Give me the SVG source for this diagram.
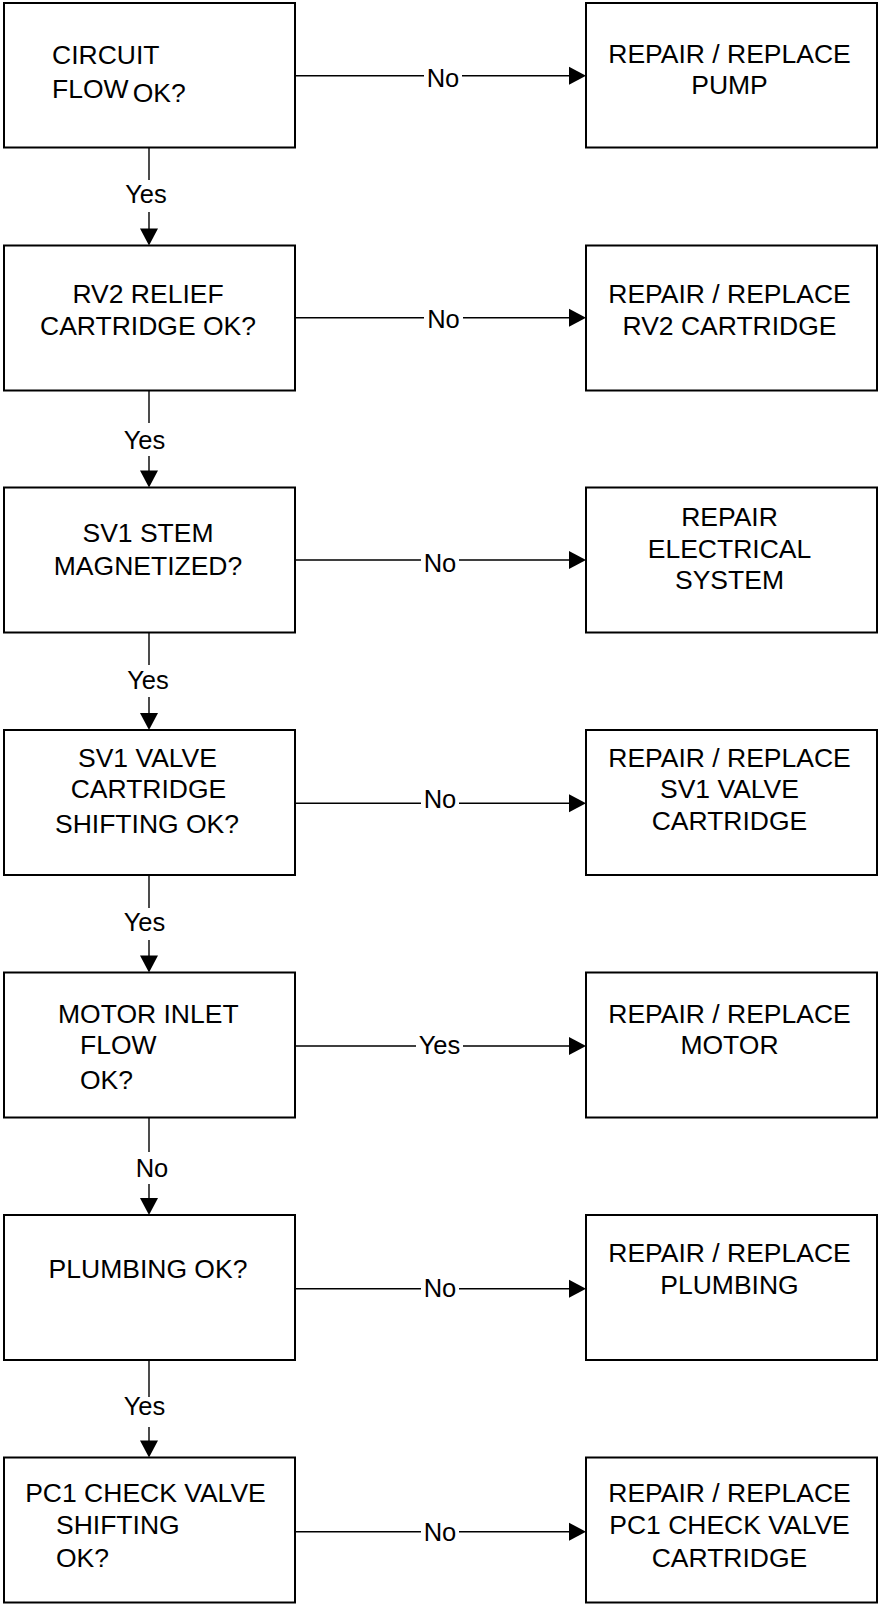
<svg xmlns="http://www.w3.org/2000/svg" width="878" height="1604" viewBox="0 0 878 1604">
<style>
.box{fill:#fff;stroke:#000;stroke-width:2}
.t{font-family:"Liberation Sans",Arial,sans-serif;font-size:26.5px;fill:#000}
.c{text-anchor:middle}
.lbl{font-family:"Liberation Sans",Arial,sans-serif;font-size:25.5px;fill:#000;text-anchor:middle}
.ln{stroke:#000;stroke-width:1.4;fill:none}
.ah{fill:#000}
</style>
<defs>
<polygon id="ad" points="-9,-17 9,-17 0,0"/>
<polygon id="ar" points="-17,-9 -17,9 0,0"/>
</defs>
<rect width="878" height="1604" fill="#fff"/>

<g id="connectors">
<path class="ln" d="M149 147V180M149 212V229"/><use href="#ad" class="ah" x="149" y="245.5"/>
<text class="lbl" x="146" y="203">Yes</text>
<path class="ln" d="M149 390.5V423M149 456V471"/><use href="#ad" class="ah" x="149" y="487.5"/>
<text class="lbl" x="144.5" y="449">Yes</text>
<path class="ln" d="M149 632.5V665M149 697V714"/><use href="#ad" class="ah" x="149" y="730"/>
<text class="lbl" x="148" y="689">Yes</text>
<path class="ln" d="M149 875V908M149 940V956"/><use href="#ad" class="ah" x="149" y="972.5"/>
<text class="lbl" x="144.5" y="931">Yes</text>
<path class="ln" d="M149 1117.5V1152M149 1184V1199"/><use href="#ad" class="ah" x="149" y="1215"/>
<text class="lbl" x="152" y="1176.7">No</text>
<path class="ln" d="M149 1360V1397M149 1427V1441"/><use href="#ad" class="ah" x="149" y="1457.5"/>
<text class="lbl" x="144.5" y="1415">Yes</text>
<path class="ln" d="M295 75.7H424M462 75.7H570"/><use href="#ar" class="ah" x="586" y="75.7"/>
<text class="lbl" x="443" y="87">No</text>
<path class="ln" d="M295 317.7H424M463 317.7H570"/><use href="#ar" class="ah" x="586" y="317.7"/>
<text class="lbl" x="443.5" y="328.3">No</text>
<path class="ln" d="M295 560H421M459 560H570"/><use href="#ar" class="ah" x="586" y="560"/>
<text class="lbl" x="440" y="571.7">No</text>
<path class="ln" d="M295 803.3H421M459 803.3H570"/><use href="#ar" class="ah" x="586" y="803.3"/>
<text class="lbl" x="440" y="808.3">No</text>
<path class="ln" d="M295 1046H416M463 1046H570"/><use href="#ar" class="ah" x="586" y="1046"/>
<text class="lbl" x="439.5" y="1054">Yes</text>
<path class="ln" d="M295 1288.7H421M459 1288.7H570"/><use href="#ar" class="ah" x="586" y="1288.7"/>
<text class="lbl" x="440" y="1297.3">No</text>
<path class="ln" d="M295 1531.7H421M459 1531.7H570"/><use href="#ar" class="ah" x="586" y="1531.7"/>
<text class="lbl" x="440" y="1541">No</text>
</g>

<g id="q1"><rect class="box" x="4" y="3" width="291" height="144.5"/>
<text class="t" x="52" y="64">CIRCUIT</text><text class="t" x="52" y="98.3">FLOW</text><text class="t" x="132.7" y="101.7">OK?</text></g>
<g id="a1"><rect class="box" x="586" y="3" width="291" height="144.5"/>
<text class="t c" x="729.5" y="63.3">REPAIR / REPLACE</text><text class="t c" x="729.5" y="94.3">PUMP</text></g>

<g id="q2"><rect class="box" x="4" y="245.5" width="291" height="145"/>
<text class="t c" x="148" y="302.7">RV2 RELIEF</text><text class="t c" x="148" y="335">CARTRIDGE OK?</text></g>
<g id="a2"><rect class="box" x="586" y="245.5" width="291" height="145"/>
<text class="t c" x="729.5" y="302.7">REPAIR / REPLACE</text><text class="t c" x="729.5" y="335">RV2 CARTRIDGE</text></g>

<g id="q3"><rect class="box" x="4" y="487.5" width="291" height="145"/>
<text class="t c" x="148" y="542.3">SV1 STEM</text><text class="t c" x="148" y="575">MAGNETIZED?</text></g>
<g id="a3"><rect class="box" x="586" y="487.5" width="291" height="145"/>
<text class="t c" x="729.5" y="525.7">REPAIR</text><text class="t c" x="729.5" y="557.7">ELECTRICAL</text><text class="t c" x="729.5" y="589.3">SYSTEM</text></g>

<g id="q4"><rect class="box" x="4" y="730" width="291" height="145"/>
<text class="t c" x="147.5" y="766.7">SV1 VALVE</text><text class="t c" x="148.5" y="798.3">CARTRIDGE</text><text class="t c" x="147" y="833.3">SHIFTING OK?</text></g>
<g id="a4"><rect class="box" x="586" y="730" width="291" height="145"/>
<text class="t c" x="729.5" y="766.7">REPAIR / REPLACE</text><text class="t c" x="729.5" y="798.3">SV1 VALVE</text><text class="t c" x="729.5" y="830">CARTRIDGE</text></g>

<g id="q5"><rect class="box" x="4" y="972.5" width="291" height="145"/>
<text class="t" x="58" y="1022.7">MOTOR INLET</text><text class="t" x="80" y="1054.3">FLOW</text><text class="t" x="80" y="1089.3">OK?</text></g>
<g id="a5"><rect class="box" x="586" y="972.5" width="291" height="145"/>
<text class="t c" x="729.5" y="1022.7">REPAIR / REPLACE</text><text class="t c" x="729.5" y="1054.3">MOTOR</text></g>

<g id="q6"><rect class="box" x="4" y="1215" width="291" height="145"/>
<text class="t c" x="148" y="1278.3">PLUMBING OK?</text></g>
<g id="a6"><rect class="box" x="586" y="1215" width="291" height="145"/>
<text class="t c" x="729.5" y="1261.7">REPAIR / REPLACE</text><text class="t c" x="729.5" y="1294">PLUMBING</text></g>

<g id="q7"><rect class="box" x="4" y="1457.5" width="291" height="145"/>
<text class="t" x="25.2" y="1501.7">PC1 CHECK VALVE</text><text class="t" x="56" y="1534.3">SHIFTING</text><text class="t" x="56" y="1566.7">OK?</text></g>
<g id="a7"><rect class="box" x="586" y="1457.5" width="291" height="145"/>
<text class="t c" x="729.5" y="1501.7">REPAIR / REPLACE</text><text class="t c" x="729.5" y="1534.3">PC1 CHECK VALVE</text><text class="t c" x="729.5" y="1566.7">CARTRIDGE</text></g>
</svg>
